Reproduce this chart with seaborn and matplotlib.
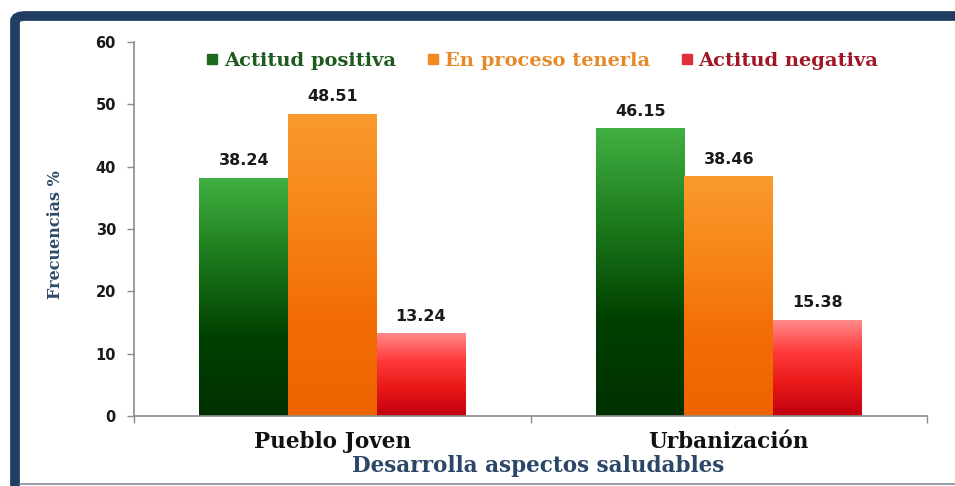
import numpy as np
import pandas as pd
import matplotlib
matplotlib.use("Agg")
import matplotlib.pyplot as plt
import seaborn as sns
from matplotlib.patches import FancyBboxPatch
from matplotlib.colors import LinearSegmentedColormap
from matplotlib.lines import Line2D

# Datos del grafico
categorias = ['Pueblo Joven', 'Urbanización']
series = ['Actitud positiva', 'En proceso tenerla', 'Actitud negativa']
positiva = [38.24, 46.15]
en_proceso = [48.51, 38.46]
negativa = [13.24, 15.38]
yticks = [0, 10, 20, 30, 40, 50, 60]

df = pd.DataFrame({
    'Zona': categorias * 3,
    'Serie': [series[0]] * 2 + [series[1]] * 2 + [series[2]] * 2,
    'Valor': positiva + en_proceso + negativa,
})

# degradados de cada serie (arriba -> abajo)
degradados = [
    ['#42b042', '#1c7a1c', '#004000', '#003000'],
    ['#fa9a2c', '#f7861a', '#f26d05', '#ef6400'],
    ['#ff8a8a', '#ff3a3a', '#e81818', '#c00010'],
]
color_legenda = ['#1e6a1e', '#f08a22', '#e03040']
color_texto = ['#1f5a1f', '#e58a2a', '#a01828']

sns.set_theme(style='white')
plt.rcParams['font.family'] = ['DejaVu Sans']

fig = plt.figure(figsize=(9.55, 4.86), dpi=100)
W, H = 955, 486

# marco azul redondeado
marco = FancyBboxPatch((15 / W, -30 / H), 980 / W, (H - 16 + 30) / H,
                       boxstyle='round,pad=0,rounding_size=0.011',
                       transform=fig.transFigure, facecolor='white',
                       edgecolor='#203d62', linewidth=7, zorder=-10)
fig.patches.append(marco)
fig.add_artist(Line2D([20 / W, 1], [2 / H, 2 / H], color='#8a8f96',
                      linewidth=1.2, transform=fig.transFigure))

ax = fig.add_axes([134 / W, 70 / H, (927 - 134) / W, (444 - 70) / H])
ax.set_facecolor('none')

sns.barplot(data=df, x='Zona', y='Valor', hue='Serie', order=categorias,
            hue_order=series, width=0.67, gap=0, palette=color_legenda,
            legend=False, ax=ax, saturation=1)

ax.set_xlim(-0.5, 1.5)
ax.set_ylim(0, 60)

# degradado dentro de cada barra
for cont, cols in zip(ax.containers, degradados):
    cmap = LinearSegmentedColormap.from_list('g', cols)
    grad = np.linspace(0, 1, 256).reshape(-1, 1)
    for bar in cont:
        bar.set_facecolor('none')
        bar.set_edgecolor('none')
        x0, y0 = bar.get_x(), bar.get_y()
        w, h = bar.get_width(), bar.get_height()
        im = ax.imshow(grad, cmap=cmap, aspect='auto',
                       extent=[x0, x0 + w, y0, y0 + h], origin='upper', zorder=2)
        im.set_clip_path(bar)
    ax.bar_label(cont, fmt='%.2f', padding=7, fontsize=11.5,
                 fontweight='bold', color='#1a1a1a')
ax.set_xlim(-0.5, 1.5)
ax.set_ylim(0, 60)

sns.despine(ax=ax)
for s in ['left', 'bottom']:
    ax.spines[s].set_color('#8c8c8c')
    ax.spines[s].set_linewidth(1.2)

ax.set_yticks(yticks)
ax.tick_params(axis='y', which='major', length=5, width=1, color='#8c8c8c',
               direction='out', left=True, labelsize=10.5, pad=8)
for t in ax.get_yticklabels():
    t.set_fontweight('bold')
    t.set_color('#1a1a1a')

ax.set_xticks([0, 1])
ax.set_xticks([-0.5, 0.5, 1.5], minor=True)
ax.tick_params(axis='x', which='major', length=0, pad=11)
ax.tick_params(axis='x', which='minor', length=5, width=1, color='#8c8c8c',
               direction='out', bottom=True)
ax.set_xticklabels(categorias, fontfamily='DejaVu Serif', fontweight='bold',
                   fontsize=15.5, color='#111111')

ax.set_xlabel('Desarrolla aspectos saludables', fontfamily='DejaVu Serif',
              fontweight='bold', fontsize=15.5, color='#2c4668')
ax.xaxis.set_label_coords(0.51, -0.103)
ax.set_ylabel('Frecuencias %', fontfamily='DejaVu Serif', fontweight='bold',
              fontsize=11.5, color='#2f4a6a')
ax.yaxis.set_label_coords(-0.088, 0.485)

# leyenda con cuadraditos
handles = [Line2D([], [], marker='s', linestyle='none', markersize=7.5,
                  markerfacecolor=c, markeredgecolor=c) for c in color_legenda]
leg = ax.legend(handles, series, loc='upper center', bbox_to_anchor=(0.515, 1.02),
                ncol=3, frameon=False, handlelength=0.6, handletextpad=0.3,
                columnspacing=1.6, prop={'family': 'DejaVu Serif',
                                         'weight': 'bold', 'size': 14})
for t, c in zip(leg.get_texts(), color_texto):
    t.set_color(c)

fig.savefig('out.png', dpi=100)
